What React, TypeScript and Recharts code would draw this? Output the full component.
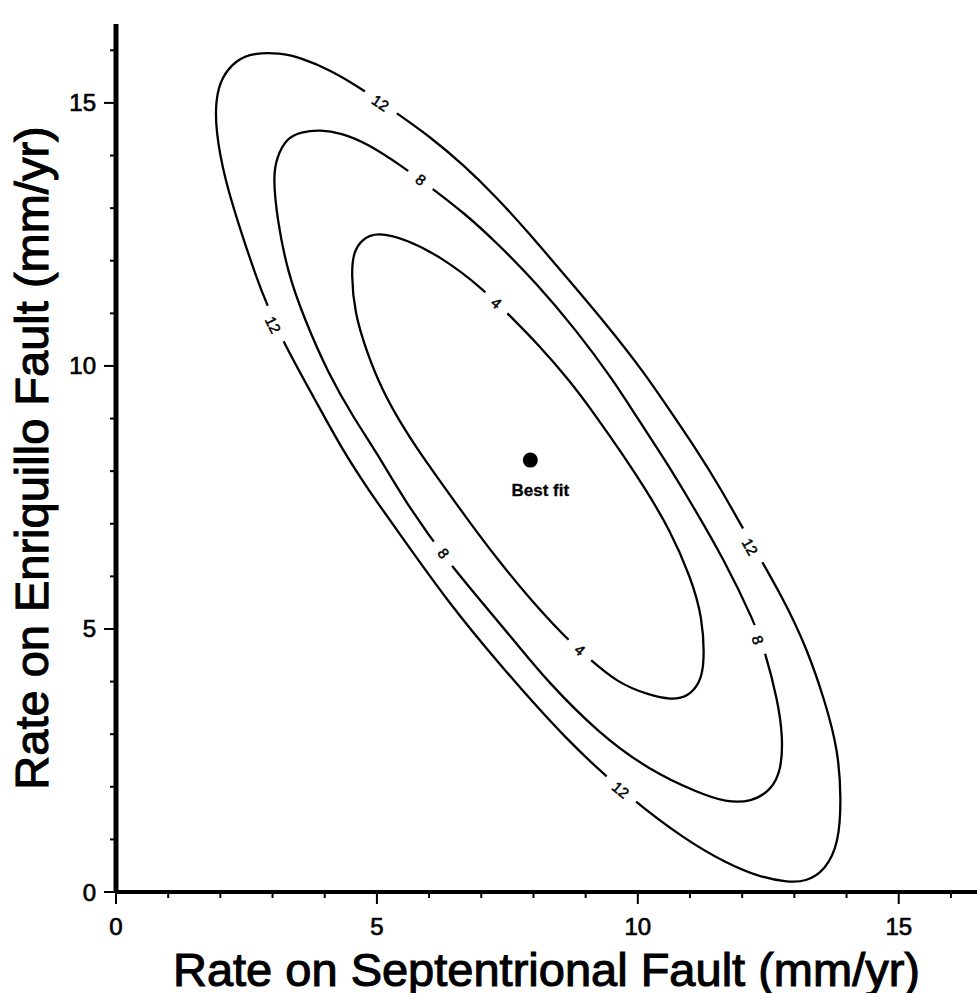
import React from 'react';
import { ComposedChart, Line, Scatter, XAxis, YAxis, Label } from 'recharts';

type Pt = { x: number; y: number };

// contour of misfit = 12 (outer)
const contour12: Pt[] = [
  { x: 8.68, y: 11.63 }, { x: 9.39, y: 10.8 }, { x: 10.11, y: 9.89 }, { x: 10.61, y: 9.16 },
  { x: 11.13, y: 8.4 }, { x: 11.57, y: 7.7 }, { x: 12.03, y: 6.88 }, { x: 12.81, y: 5.55 },
  { x: 13.25, y: 4.6 }, { x: 13.58, y: 3.65 }, { x: 13.84, y: 2.7 }, { x: 13.9, y: 1.75 },
  { x: 13.85, y: 0.93 }, { x: 13.6, y: 0.42 }, { x: 13.22, y: 0.19 }, { x: 12.84, y: 0.19 },
  { x: 12.32, y: 0.29 }, { x: 11.69, y: 0.55 }, { x: 10.92, y: 0.99 }, { x: 9.89, y: 1.75 },
  { x: 8.62, y: 2.89 }, { x: 7.33, y: 4.35 }, { x: 6.38, y: 5.49 }, { x: 5.42, y: 6.83 },
  { x: 4.84, y: 7.64 }, { x: 4.34, y: 8.4 }, { x: 3.82, y: 9.35 }, { x: 3.18, y: 10.49 },
  { x: 2.79, y: 11.39 }, { x: 2.4, y: 12.53 }, { x: 2.07, y: 13.59 }, { x: 1.91, y: 14.49 },
  { x: 1.91, y: 15.06 }, { x: 2.02, y: 15.49 }, { x: 2.31, y: 15.82 }, { x: 2.63, y: 15.95 },
  { x: 3.15, y: 15.95 }, { x: 3.53, y: 15.86 }, { x: 4.11, y: 15.63 }, { x: 4.8, y: 15.21 },
  { x: 5.37, y: 14.81 }, { x: 6.03, y: 14.35 }, { x: 6.66, y: 13.82 }, { x: 7.29, y: 13.21 },
  { x: 7.91, y: 12.53 },
];

// contour 8 (middle)
const contour8: Pt[] = [
  { x: 8.05, y: 11.58 }, { x: 8.82, y: 10.68 }, { x: 9.53, y: 9.73 }, { x: 10.03, y: 8.95 },
  { x: 10.55, y: 8.17 }, { x: 11.0, y: 7.43 }, { x: 11.66, y: 6.31 }, { x: 12.24, y: 5.11 },
  { x: 12.43, y: 4.6 }, { x: 12.68, y: 3.65 }, { x: 12.78, y: 2.95 }, { x: 12.75, y: 2.32 },
  { x: 12.56, y: 1.94 }, { x: 12.18, y: 1.71 }, { x: 11.68, y: 1.71 }, { x: 11.17, y: 1.88 },
  { x: 10.21, y: 2.32 }, { x: 9.25, y: 3.02 }, { x: 8.28, y: 3.99 }, { x: 7.67, y: 4.73 },
  { x: 7.03, y: 5.49 }, { x: 6.38, y: 6.25 }, { x: 5.55, y: 7.4 }, { x: 4.97, y: 8.4 },
  { x: 4.58, y: 8.97 }, { x: 4.06, y: 9.87 }, { x: 3.62, y: 10.87 }, { x: 3.29, y: 11.77 },
  { x: 3.09, y: 12.78 }, { x: 3.01, y: 13.59 }, { x: 3.08, y: 13.97 }, { x: 3.27, y: 14.33 },
  { x: 3.54, y: 14.45 }, { x: 3.92, y: 14.49 }, { x: 4.31, y: 14.43 }, { x: 4.8, y: 14.24 },
  { x: 5.51, y: 13.78 }, { x: 6.09, y: 13.35 }, { x: 6.67, y: 12.91 }, { x: 7.3, y: 12.34 },
];

// contour 4 (inner)
const contour4: Pt[] = [
  { x: 8.69, y: 9.73 }, { x: 9.21, y: 9.03 }, { x: 9.73, y: 8.29 }, { x: 10.12, y: 7.7 },
  { x: 10.62, y: 6.88 }, { x: 11.01, y: 5.99 }, { x: 11.24, y: 5.23 }, { x: 11.28, y: 4.35 },
  { x: 11.19, y: 3.97 }, { x: 10.96, y: 3.71 }, { x: 10.64, y: 3.65 }, { x: 10.2, y: 3.75 },
  { x: 9.62, y: 3.97 }, { x: 9.05, y: 4.45 }, { x: 8.6, y: 4.85 }, { x: 7.95, y: 5.55 },
  { x: 7.32, y: 6.31 }, { x: 6.7, y: 7.13 }, { x: 6.06, y: 8.02 }, { x: 5.79, y: 8.4 },
  { x: 5.45, y: 8.92 }, { x: 5.1, y: 9.54 }, { x: 4.81, y: 10.25 }, { x: 4.57, y: 11.01 },
  { x: 4.51, y: 11.77 }, { x: 4.55, y: 12.15 }, { x: 4.7, y: 12.4 }, { x: 5.0, y: 12.55 },
  { x: 5.58, y: 12.4 }, { x: 6.23, y: 12.07 }, { x: 7.0, y: 11.5 }, { x: 7.63, y: 10.87 },
  { x: 8.06, y: 10.44 },
];

const contourLabels = [
  { x: 5.07, y: 15.0, level: 12 },
  { x: 5.84, y: 13.54, level: 8 },
  { x: 7.29, y: 11.2, level: 4 },
  { x: 3.01, y: 10.78, level: 12 },
  { x: 6.28, y: 6.44, level: 8 },
  { x: 8.89, y: 4.6, level: 4 },
  { x: 9.67, y: 1.94, level: 12 },
  { x: 12.15, y: 6.56, level: 12 },
  { x: 12.3, y: 4.79, level: 8 },
];

const bestFit = [{ x: 7.94, y: 8.21, name: 'Best fit' }];

const allTicks = [0, 1, 2, 3, 4, 5, 6, 7, 8, 9, 10, 11, 12, 13, 14, 15, 16];
const majorTicks = [0, 5, 10, 15];
const axisMax = 16.5;

const xTitle = 'Rate on Septentrional Fault (mm/yr)';
const yTitle = 'Rate on Enriquillo Fault (mm/yr)';

const FONT = '"Liberation Sans", Arial, Helvetica, sans-serif';
const W = 979;
const H = 993;
const PLOT_W = 861;
const PLOT_H = 868;

const contours: { [k: number]: Pt[] } = { 12: contour12, 8: contour8, 4: contour4 };

// orientation of a label follows the contour it sits on
const labelAngle = (x: number, y: number, level: number) => {
  const pts = contours[level];
  let best = 0;
  let bestD = Infinity;
  pts.forEach((p, i) => {
    const d = (p.x - x) ** 2 + (p.y - y) ** 2;
    if (d < bestD) {
      bestD = d;
      best = i;
    }
  });
  const a = pts[(best - 1 + pts.length) % pts.length];
  const b = pts[(best + 1) % pts.length];
  const sx = PLOT_W / axisMax;
  const sy = PLOT_H / axisMax;
  let ang = (Math.atan2(-(b.y - a.y) * sy, (b.x - a.x) * sx) * 180) / Math.PI;
  if (ang > 90) ang -= 180;
  if (ang < -90) ang += 180;
  return ang;
};

const ContourLabel = (props: any) => {
  const { cx, cy, payload } = props;
  const txt = String(payload.level);
  const w = txt.length * 8.4 + 22;
  const ang = labelAngle(payload.x, payload.y, payload.level);
  return (
    <g transform={`translate(${cx},${cy}) rotate(${ang})`}>
      <rect x={-w / 2} y={-6} width={w} height={12} fill="#fff" />
      <text x={0} y={0} dy="0.36em" textAnchor="middle" fontSize={15} fontFamily={FONT} fill="#000" stroke="#000" strokeWidth={0.5}>
        {txt}
      </text>
    </g>
  );
};

const BestFitShape = (props: any) => {
  const { cx, cy, payload } = props;
  return (
    <g>
      <circle cx={cx} cy={cy} r={7.5} fill="#000" />
      <text x={cx + 10} y={cy + 36} textAnchor="middle" fontSize={17} fontWeight="bold" fontFamily={FONT} fill="#000" stroke="#000" strokeWidth={0.3}>
        {payload.name}
      </text>
    </g>
  );
};

const BottomTick = (props: any) => {
  const { x, y, payload } = props;
  const major = majorTicks.includes(payload.value);
  return (
    <g>
      <line x1={x} x2={x} y1={y} y2={y + (major ? 12 : 6)} stroke="#000" strokeWidth={2} />
      {major && (
        <text x={x} y={y + 43} textAnchor="middle" fontSize={24} fontFamily={FONT} fill="#000" stroke="#000" strokeWidth={0.7}>
          {payload.value}
        </text>
      )}
    </g>
  );
};

const TopTick = (props: any) => {
  const { x, y, payload } = props;
  const major = majorTicks.includes(payload.value);
  return <line x1={x} x2={x} y1={y - (major ? 11 : 5)} y2={y} stroke="#000" strokeWidth={2} />;
};

const LeftTick = (props: any) => {
  const { x, y, payload } = props;
  const major = majorTicks.includes(payload.value);
  return (
    <g>
      <line x1={x - (major ? 12 : 6)} x2={x} y1={y} y2={y} stroke="#000" strokeWidth={2} />
      {major && (
        <text x={x - 20} y={y + 8.5} textAnchor="end" fontSize={24} fontFamily={FONT} fill="#000" stroke="#000" strokeWidth={0.7}>
          {payload.value}
        </text>
      )}
    </g>
  );
};

const XTitle = (props: any) => {
  const vb = props.viewBox;
  return (
    <text x={vb.x + vb.width / 2} y={vb.y + 94} textAnchor="middle" fontSize={47} fontFamily={FONT} fill="#000" stroke="#000" strokeWidth={1.1}>
      {xTitle}
    </text>
  );
};

const YTitle = (props: any) => {
  const vb = props.viewBox;
  const cx = vb.x + 48;
  const cy = vb.y + vb.height / 2;
  return (
    <text x={cx} y={cy} transform={`rotate(-90, ${cx}, ${cy})`} textAnchor="middle" fontSize={47} fontFamily={FONT} fill="#000" stroke="#000" strokeWidth={1.1}>
      {yTitle}
    </text>
  );
};

export default function App() {
  return (
    <div style={{ position: 'absolute', left: 0, top: 0, width: W, height: H, background: '#fff' }}>
      <ComposedChart width={W} height={H} margin={{ top: 24, right: 2, bottom: 0, left: 0 }}>
        <XAxis
          dataKey="x"
          type="number"
          domain={[0, axisMax]}
          ticks={allTicks}
          interval={0}
          height={101}
          tickSize={0}
          tickMargin={0}
          tickLine={false}
          tick={<BottomTick />}
          axisLine={{ stroke: '#000', strokeWidth: 4 }}
          label={<Label content={<XTitle />} />}
        />
        <XAxis
          xAxisId="top"
          orientation="top"
          type="number"
          domain={[0, axisMax]}
          ticks={allTicks}
          interval={0}
          height={0}
          tickSize={0}
          tickMargin={0}
          tickLine={false}
          tick={<TopTick />}
          axisLine={{ stroke: '#000', strokeWidth: 4 }}
        />
        <YAxis
          dataKey="y"
          type="number"
          domain={[0, axisMax]}
          ticks={allTicks}
          interval={0}
          width={116}
          tickSize={0}
          tickMargin={0}
          tickLine={false}
          tick={<LeftTick />}
          axisLine={{ stroke: '#000', strokeWidth: 5 }}
          label={<Label content={<YTitle />} />}
        />
        <YAxis
          yAxisId="right"
          orientation="right"
          type="number"
          domain={[0, axisMax]}
          width={0}
          tick={false}
          tickLine={false}
          axisLine={{ stroke: '#000', strokeWidth: 2.5 }}
        />
        <Line data={contour12} dataKey="y" type="basisClosed" stroke="#000" strokeWidth={2.3} dot={false} activeDot={false} isAnimationActive={false} />
        <Line data={contour8} dataKey="y" type="basisClosed" stroke="#000" strokeWidth={2.3} dot={false} activeDot={false} isAnimationActive={false} />
        <Line data={contour4} dataKey="y" type="basisClosed" stroke="#000" strokeWidth={2.3} dot={false} activeDot={false} isAnimationActive={false} />
        <Scatter data={contourLabels} dataKey="y" shape={<ContourLabel />} isAnimationActive={false} />
        <Scatter data={bestFit} dataKey="y" shape={<BestFitShape />} isAnimationActive={false} />
      </ComposedChart>
    </div>
  );
}
